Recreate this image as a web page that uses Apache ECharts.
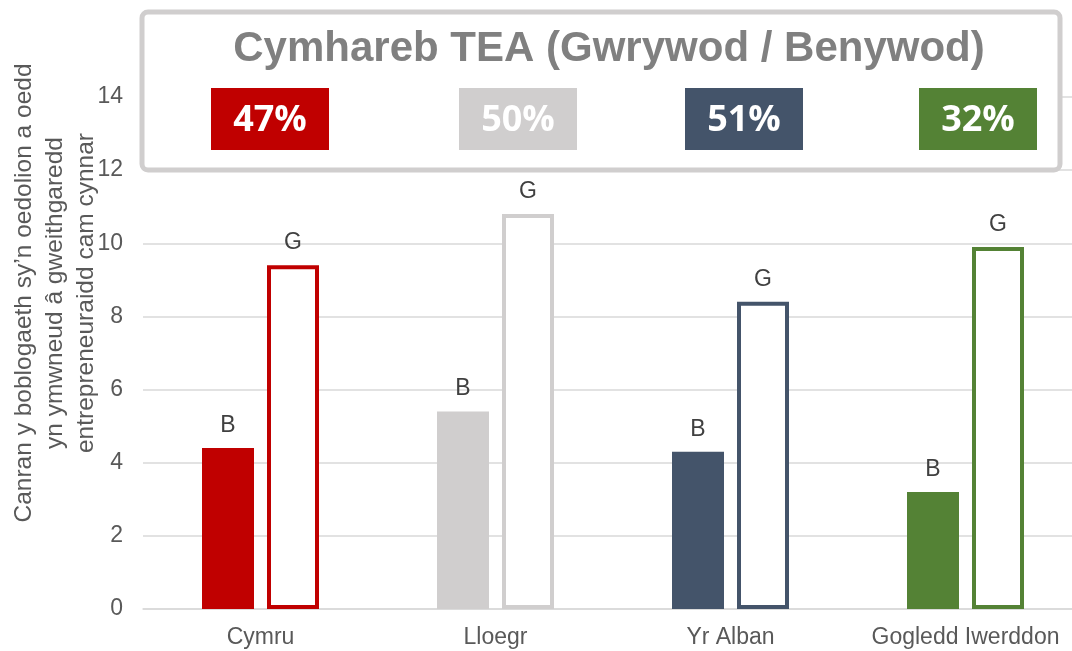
<!DOCTYPE html>
<html>
<head>
<meta charset="utf-8">
<script src="https://cdn.jsdelivr.net/npm/echarts@6/dist/echarts.min.js"></script>
<style>html,body{margin:0;padding:0;background:#fff}#c{width:1072px;height:651px}</style>
</head>
<body>
<div id="c"></div>
<script>
const categories = ['Cymru', 'Lloegr', 'Yr Alban', 'Gogledd Iwerddon'];
const benywod = [4.4, 5.4, 4.3, 3.2];
const gwrywod = [9.4, 10.8, 8.4, 9.9];
const colours = ['#C00000', '#D0CECE', '#44546A', '#548235'];
const ratioLabels = ['47%', '50%', '51%', '32%'];
const yTicks = [0, 2, 4, 6, 8, 10, 12, 14];
const titleText = 'Cymhareb TEA (Gwrywod / Benywod)';
const yName = 'Canran y boblogaeth sy\u2019n oedolion a oedd\nyn ymwneud \u00e2 gweithgaredd\nentrepreneuraidd cam cynnar';

const chart = echarts.init(document.getElementById('c'));
const boxX = [211, 459, 685, 919];
const graphics = [
  { type: 'rect', z: 100, shape: { x: 142, y: 12, width: 918, height: 158, r: 6 },
    style: { fill: '#fff', stroke: '#D0CECE', lineWidth: 5 } },
  { type: 'text', z: 101, x: 609, y: 49,
    style: { text: titleText, font: 'bold 42px "Liberation Sans", Arial, sans-serif', fill: '#808080', align: 'center', verticalAlign: 'middle' } },
  { type: 'text', z: 101, x: 55, y: 293, rotation: Math.PI / 2,
    style: { text: yName, font: '24.5px "Liberation Sans", Arial, sans-serif', lineHeight: 31, fill: '#595959', align: 'center', verticalAlign: 'middle' } }
];
ratioLabels.forEach((t, i) => {
  graphics.push({ type: 'rect', z: 101, shape: { x: boxX[i], y: 88, width: 118, height: 62 }, style: { fill: colours[i] } });
  graphics.push({ type: 'text', z: 102, x: boxX[i] + 59, y: 121,
    style: { text: t, font: 'bold 36px "Open Sans", sans-serif', fill: '#fff', align: 'center', verticalAlign: 'middle' } });
});

chart.setOption({
  animation: false,
  grid: { left: 143, right: -11, top: 97, bottom: 42, containLabel: false, outerBoundsMode: 'none' },
  xAxis: {
    type: 'category', data: categories,
    axisLine: { lineStyle: { color: '#D9D9D9', width: 1.5 } },
    axisTick: { show: false },
    axisLabel: { interval: 0, hideOverlap: false, color: '#595959', fontSize: 23, fontFamily: 'Liberation Sans', margin: 17 }
  },
  yAxis: {
    type: 'value', min: 0, max: 14, interval: 2,
    axisLine: { show: false }, axisTick: { show: false },
    splitLine: { lineStyle: { color: '#D9D9D9', width: 1.5 } },
    axisLabel: { color: '#595959', fontSize: 23, fontFamily: 'Liberation Sans', margin: 20,
      formatter: v => yTicks.includes(v) ? String(v) : '' }
  },
  series: [
    { type: 'bar', name: 'B', data: benywod.map((v, i) => ({ value: v, itemStyle: { color: colours[i] } })),
      barWidth: 52, barGap: '25%',
      label: { show: true, position: 'top', formatter: 'B', color: '#404040', fontSize: 23, fontFamily: 'Liberation Sans', distance: 11 } },
    { type: 'bar', name: 'G', data: gwrywod.map((v, i) => ({ value: v, itemStyle: { color: '#fff', borderColor: colours[i], borderWidth: 4 } })),
      barWidth: 52, barGap: '25%',
      label: { show: true, position: 'top', formatter: 'G', color: '#404040', fontSize: 23, fontFamily: 'Liberation Sans', distance: 11 } }
  ],
  graphic: graphics
});
</script>
</body>
</html>
